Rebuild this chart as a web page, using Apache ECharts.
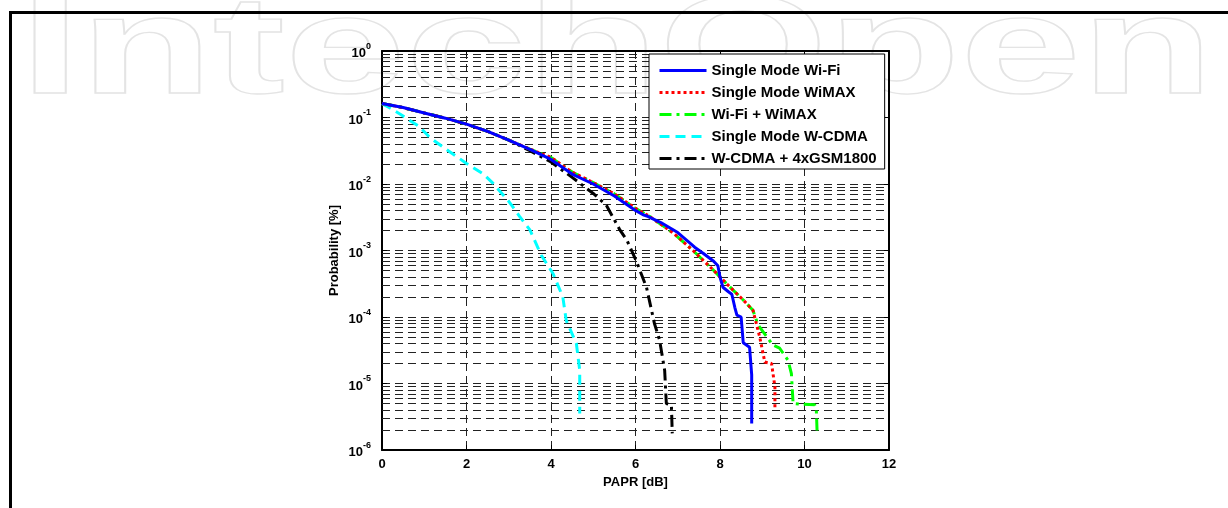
<!DOCTYPE html>
<html><head><meta charset="utf-8">
<script src="https://cdn.jsdelivr.net/npm/echarts@6/dist/echarts.min.js"></script>
<style>html,body{margin:0;padding:0;background:#fff}#c{width:1228px;height:508px}</style>
</head><body><div id="c"></div>
<script>
// ---- data (x = PAPR [dB], y = probability) ----
const seriesNames = ['Single Mode Wi-Fi', 'Single Mode WiMAX', 'Wi-Fi + WiMAX', 'Single Mode W-CDMA', 'W-CDMA + 4xGSM1800'];
const xTicks = [0, 2, 4, 6, 8, 10, 12];
const wifi = [[0,0.162],[0.5,0.141],[1,0.117],[1.5,0.0977],[2,0.0794],[2.5,0.0617],[3,0.0457],[3.5,0.0331],[4,0.0234],
  [4.5,0.0141],[5,0.0100],[5.5,0.0066],[6,0.0040],[6.2,0.0034],[6.3,0.00324],[6.6,0.00263],[7,0.00186],[7.2,0.00145],
  [7.4,0.00112],[7.6,0.00091],[7.85,0.00069],[7.95,0.00059],[8.0,0.00040],[8.07,0.00028],[8.2,0.00024],[8.28,0.00022],
  [8.35,0.00014],[8.4,0.000107],[8.5,0.0001],[8.55,0.000041],[8.7,0.000035],[8.75,0.0000135],[8.75,0.0000025]];
const wimax = [[0,0.162],[0.5,0.141],[1,0.117],[1.5,0.0977],[2,0.0794],[2.5,0.0617],[3,0.0457],[3.5,0.0335],[4,0.0251],
  [4.5,0.0151],[5,0.0105],[5.5,0.0071],[6,0.0043],[6.34,0.00324],[6.9,0.00182],[7.36,0.0010],[7.84,0.00051],[8.15,0.00032],
  [8.55,0.00018],[8.78,0.000126],[8.94,0.000050],[9.06,0.000021],[9.22,0.000020],[9.30,0.0000089],[9.30,0.0000040]];
const wifiWimax = [[0,0.162],[0.5,0.141],[1,0.117],[1.5,0.0977],[2,0.0794],[2.5,0.0617],[3,0.0457],[3.5,0.0335],[4,0.0251],
  [4.5,0.0151],[5,0.0105],[5.5,0.0071],[6,0.0043],[6.34,0.00324],[6.9,0.00182],[7.36,0.0010],[7.84,0.00051],[8.15,0.00032],
  [8.55,0.00018],[8.78,0.000126],[8.90,0.000076],[9.25,0.000038],[9.41,0.000034],[9.61,0.0000224],[9.69,0.0000141],
  [9.73,0.0000050],[9.89,0.0000049],[10.24,0.0000048],[10.28,0.0000040],[10.30,0.00000174]];
const wcdma = [[0,0.162],[0.2,0.138],[0.5,0.105],[0.89,0.0724],[1.13,0.0501],[1.5,0.0339],[2.0,0.0204],[2.4,0.0141],
  [2.63,0.0102],[3.0,0.0055],[3.26,0.00324],[3.5,0.00204],[3.77,0.00085],[4.05,0.000447],[4.28,0.0002],[4.36,0.000089],
  [4.6,0.000040],[4.68,0.0000158],[4.68,0.00000355]];
const wcdmaGsm = [[0,0.162],[0.5,0.141],[1,0.117],[1.5,0.0977],[2,0.0794],[2.5,0.0617],[3,0.0457],[3.5,0.0316],[4,0.0214],
  [4.5,0.0126],[5.0,0.0072],[5.31,0.0048],[5.63,0.00204],[5.8,0.00141],[6.02,0.00069],[6.26,0.00028],[6.45,0.000079],
  [6.57,0.000045],[6.69,0.0000158],[6.73,0.0000050],[6.85,0.0000047],[6.87,0.00000178]];
const decades = [-6, -5, -4, -3, -2, -1];
const minorMantissa = [2, 3, 4, 5, 6, 7, 8, 9];

const FONT = '"Liberation Sans", Arial, Helvetica, sans-serif';
const gridDash = [8, 5];
const minorLines = [];
decades.forEach(d => minorMantissa.forEach(m => {
  const v = m * Math.pow(10, d);
  minorLines.push({ coords: [[xTicks[0], v], [xTicks[xTicks.length - 1], v]] });
}));

const chart = echarts.init(document.getElementById('c'), null, { renderer: 'canvas' });
const mkLine = (name, data, color, type) => ({
  name, type: 'line', data, xAxisIndex: 0, yAxisIndex: 0, symbol: 'none', showSymbol: false,
  lineStyle: { color, width: 3, type }, itemStyle: { color }, z: 5, animation: false, silent: true
});
chart.setOption({
  animation: false,
  backgroundColor: '#fff',
  graphic: [
    { type: 'text', z: -10, silent: true, scaleX: 1.55, x: 20, y: 0,
      style: { x: 0, y: 124, text: 'IntechOpen', font: 'bold 140px ' + FONT, verticalAlign: 'bottom',
        fill: 'rgba(0,0,0,0)', stroke: '#e4e4e4', lineWidth: 1.3 } },
    { type: 'polyline', z: 100, silent: true,
      shape: { points: [[10.5, 508], [10.5, 12.5], [1228, 12.5]] },
      style: { stroke: '#000', lineWidth: 3, fill: null } }
  ],
  grid: { left: 382, top: 51, width: 507, height: 399, containLabel: false },
  legend: {
    data: seriesNames, orient: 'vertical', left: 649, top: 54,
    backgroundColor: '#fff', borderColor: '#000', borderWidth: 1, borderRadius: 0,
    padding: [9, 8, 3, 9], itemWidth: 47, itemHeight: 14, itemGap: 7, itemTextGap: 5,
    itemStyle: { opacity: 0 },
    lineStyle: { width: 3 },
    textStyle: { fontFamily: FONT, fontSize: 15, fontWeight: 'bold', color: '#000' },
    selectedMode: false
  },
  xAxis: [{
    type: 'value', min: 0, max: 12, interval: 2, position: 'bottom',
    name: 'PAPR [dB]', nameLocation: 'middle', nameGap: 25,
    nameTextStyle: { fontFamily: FONT, fontSize: 13, fontWeight: 'bold', color: '#000' },
    axisLine: { show: true, onZero: false, lineStyle: { color: '#000', width: 2 } },
    axisTick: { show: true, inside: true, length: 5, lineStyle: { color: '#000' } },
    axisLabel: { fontFamily: FONT, fontSize: 13, fontWeight: 'bold', color: '#000', margin: 8 },
    splitLine: { show: true, lineStyle: { color: '#222', width: 1, type: gridDash } }
  }, {
    type: 'value', min: 0, max: 12, interval: 2, position: 'top',
    axisLine: { show: true, onZero: false, lineStyle: { color: '#000', width: 2 } },
    axisTick: { show: true, inside: true, length: 5, lineStyle: { color: '#000' } },
    axisLabel: { show: false }, splitLine: { show: false }
  }],
  yAxis: [{
    type: 'log', logBase: 10, min: 1e-6, max: 1, splitNumber: 6, position: 'left',
    name: 'Probability [%]', nameLocation: 'middle', nameGap: 41, nameRotate: 90,
    nameTextStyle: { fontFamily: FONT, fontSize: 13, fontWeight: 'bold', color: '#000' },
    axisLine: { show: true, onZero: false, lineStyle: { color: '#000', width: 2 } },
    axisTick: { show: true, inside: true, length: 5, lineStyle: { color: '#000' } },
    axisLabel: {
      margin: 11,
      formatter: v => '{b|10}{s|' + Math.round(Math.log10(v)) + '}',
      rich: {
        b: { fontFamily: FONT, fontSize: 13, fontWeight: 'bold', color: '#000', lineHeight: 18, verticalAlign: 'bottom' },
        s: { fontFamily: FONT, fontSize: 9, fontWeight: 'bold', color: '#000', lineHeight: 10, verticalAlign: 'top' }
      }
    },
    splitLine: { show: true, lineStyle: { color: '#222', width: 1, type: gridDash } }
  }, {
    type: 'log', logBase: 10, min: 1e-6, max: 1, splitNumber: 6, position: 'right',
    axisLine: { show: true, onZero: false, lineStyle: { color: '#000', width: 2 } },
    axisTick: { show: true, inside: true, length: 5, lineStyle: { color: '#000' } },
    axisLabel: { show: false }, splitLine: { show: false }
  }],
  series: [
    {
      name: 'minor-grid', type: 'lines', coordinateSystem: 'cartesian2d', xAxisIndex: 0, yAxisIndex: 0,
      z: 1, silent: true, animation: false, symbol: ['none', 'none'],
      lineStyle: { color: '#222', width: 1, type: gridDash, opacity: 1, curveness: 0 },
      data: minorLines
    },
    mkLine(seriesNames[4], wcdmaGsm, '#000000', [12, 5, 3, 5]),
    mkLine(seriesNames[3], wcdma, '#00ffff', [10, 6]),
    mkLine(seriesNames[2], wifiWimax, '#00ff00', [12, 5, 3, 5]),
    mkLine(seriesNames[1], wimax, '#ff0000', [3, 3]),
    mkLine(seriesNames[0], wifi, '#0000ff', 'solid')
  ]
});
</script>
</body></html>
